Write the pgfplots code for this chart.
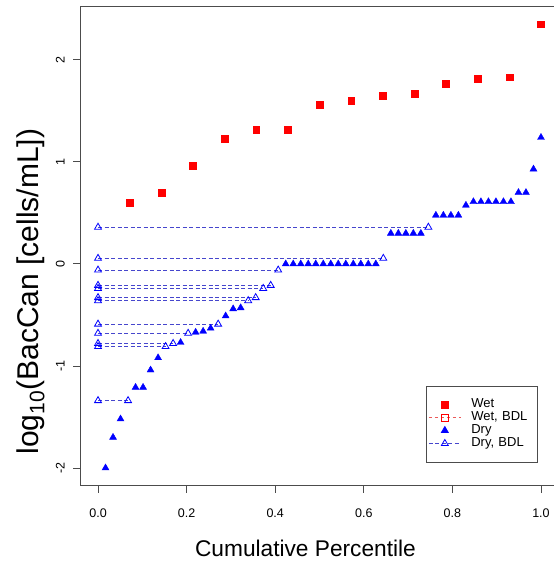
\documentclass[border=0pt]{standalone}
\usepackage{pgfplots}
\pgfplotsset{compat=1.18}
\usepackage{fontspec}
\setmainfont{Liberation Sans}
\definecolor{bdlblue}{RGB}{70,70,205}
\definecolor{bdlred}{RGB}{235,90,90}
\begin{document}
\begin{tikzpicture}[x=1pt,y=1pt]
\useasboundingbox (0,0) rectangle (554,565);
\pgfplotsset{myleg/.style={legend image code/.code={%
  \draw[mark repeat=2,mark phase=2,##1] plot coordinates {(0pt,0pt) (16pt,0pt) (32pt,0pt)};
  \path (42pt,0pt);}}}
\begin{axis}[
  at={(80.3pt,79.3pt)}, anchor=south west,
  scale only axis, width=478.4pt, height=479.2pt,
  xmin=-0.04, xmax=1.04, ymin=-2.174, ymax=2.524,
  axis line style={black!70, line width=0.9pt},
  tick align=outside, tick pos=left,
  major tick style={black!70, line width=0.9pt}, major tick length=7pt,
  xtick={0,0.2,0.4,0.6,0.8,1.0}, ytick={-2,-1,0,1,2},
  /pgf/number format/assume math mode=true,
  xticklabel style={font=\fontsize{12.5}{14}\selectfont, anchor=center, yshift=-20pt,
    /pgf/number format/.cd, fixed, fixed zerofill, precision=1},
  yticklabel style={font=\fontsize{12.5}{14}\selectfont, xshift=-13pt, rotate=90, anchor=center},
  xlabel={Cumulative Percentile},
  ylabel={log\textsubscript{10}(BacCan [cells/mL])},
  xlabel style={font=\fontsize{22.7}{27}\selectfont, at={(rel axis cs:0.4707,-0.130)}, anchor=center},
  ylabel style={font=\fontsize{30}{36}\selectfont, at={(rel axis cs:-0.104,0.405)}, anchor=center},
  unbounded coords=jump,
  legend cell align=left,
  legend style={at={(rel axis cs:0.7226,0.0488)}, anchor=south west,
    draw=black!70, line width=0.8pt, inner xsep=2pt, inner ysep=12pt,
    column sep=0pt, row sep=0pt,
    font=\fontsize{13}{14}\selectfont,
    nodes={inner sep=0pt, text height=9pt, text depth=3.9pt, text width=64pt, align=left}},
]
% Wet
\addplot[myleg, only marks, mark=square*, mark size=3.4pt, color=red, mark options={fill=red, draw=red}] coordinates {
(0.07143,0.60) (0.14286,0.70) (0.21429,0.96) (0.28571,1.23) (0.35714,1.32) (0.42857,1.32)
(0.50000,1.56) (0.57143,1.60) (0.64286,1.65) (0.71429,1.67) (0.78571,1.77) (0.85714,1.82)
(0.92857,1.83) (1.00000,2.35)};
\addlegendentry{Wet}
\addlegendimage{myleg, color=bdlred, line width=0.9pt, dash pattern=on 3.5pt off 2.5pt, mark=square, mark size=3.4pt, mark options={solid, draw=red, line width=0.8pt}}
\addlegendentry{Wet, BDL}
% Dry detected
\addplot[myleg, only marks, mark=triangle*, mark size=4pt, color=blue, mark options={fill=blue, draw=blue}] coordinates {
(0.01695,-2.00) (0.03390,-1.70) (0.05085,-1.52) (0.08475,-1.21) (0.10169,-1.21)
(0.11864,-1.04) (0.13559,-0.92) (0.18644,-0.77) (0.22034,-0.67) (0.23729,-0.66)
(0.25424,-0.63) (0.28814,-0.51) (0.30508,-0.44) (0.32203,-0.43)
(0.42373,0) (0.44068,0) (0.45763,0) (0.47458,0) (0.49153,0) (0.50847,0) (0.52542,0)
(0.54237,0) (0.55932,0) (0.57627,0) (0.59322,0) (0.61017,0) (0.62712,0)
(0.66102,0.30) (0.67797,0.30) (0.69492,0.30) (0.71186,0.30) (0.72881,0.30)
(0.76271,0.477) (0.77966,0.477) (0.79661,0.477) (0.81356,0.477)
(0.83051,0.575)
(0.84746,0.61) (0.86441,0.61) (0.88136,0.61) (0.89831,0.61) (0.91525,0.61) (0.93220,0.61)
(0.94915,0.70) (0.96610,0.70) (0.98305,0.93) (1.00000,1.24)};
\addlegendentry{Dry}
% Dry below detection limit
\addplot[myleg, color=bdlblue, line width=0.9pt, dash pattern=on 4pt off 2.5pt, mark=triangle, mark size=4pt, mark options={solid, draw=blue, line width=0.8pt}] coordinates {
(0,-1.34) (0.06780,-1.34) (nan,nan)
(0,-0.81) (0.15254,-0.81) (nan,nan)
(0,-0.78) (0.16949,-0.78) (nan,nan)
(0,-0.68) (0.20339,-0.68) (nan,nan)
(0,-0.59) (0.27119,-0.59) (nan,nan)
(0,-0.36) (0.33898,-0.36) (nan,nan)
(0,-0.33) (0.35593,-0.33) (nan,nan)
(0,-0.24) (0.37288,-0.24) (nan,nan)
(0,-0.21) (0.38983,-0.21) (nan,nan)
(0,-0.06) (0.40678,-0.06) (nan,nan)
(0,0.055) (0.64407,0.055) (nan,nan)
(0,0.36) (0.74576,0.36)};
\addlegendentry{Dry, BDL}
\end{axis}
\end{tikzpicture}
\end{document}
